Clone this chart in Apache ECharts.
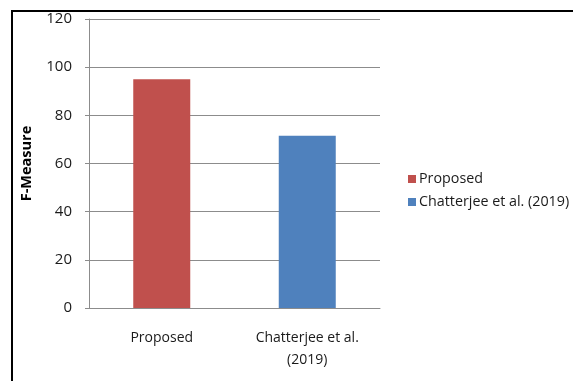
<!DOCTYPE html>
<html>
<head>
<meta charset="utf-8">
<script src="https://cdn.jsdelivr.net/npm/echarts@6/dist/echarts.min.js"></script>
<style>html,body{margin:0;padding:0;background:#fff}#c{width:573px;height:381px}</style>
</head>
<body>
<div id="c"></div>
<script>
var categories = ['Proposed', 'Chatterjee et al. (2019)'];
var seriesNames = ['Proposed', 'Chatterjee et al. (2019)'];
var proposedValues = [95, null];
var chatterjeeValues = [null, 71.5];
var yTicks = [0, 20, 40, 60, 80, 100, 120];
var colors = ['#C0504D', '#4F81BD'];
var font = '"Open Sans", sans-serif';

var chart = echarts.init(document.getElementById('c'), null, {renderer: 'canvas'});
chart.setOption({
  animation: false,
  backgroundColor: '#fff',
  color: colors,
  graphic: [
    {type: 'line', shape: {x1: 11, y1: 11, x2: 573, y2: 11}, style: {stroke: '#000', lineWidth: 2}},
    {type: 'line', shape: {x1: 12, y1: 10, x2: 12, y2: 381}, style: {stroke: '#000', lineWidth: 2}}
  ],
  grid: {left: 89, right: 193, top: 19, bottom: 73},
  legend: {
    orient: 'vertical',
    left: 403,
    top: 166,
    itemWidth: 8,
    itemHeight: 8,
    itemGap: 7,
    icon: 'rect',
    data: seriesNames,
    textStyle: {fontFamily: font, fontSize: 14.3, color: '#1a1a1a', padding: [0, 0, 0, -2], lineHeight: 16}
  },
  xAxis: {
    type: 'category',
    data: categories,
    axisTick: {show: false},
    axisLine: {lineStyle: {color: '#8c8c8c', width: 1}},
    axisLabel: {
      fontFamily: font, fontSize: 14, color: '#1a1a1a', margin: 19, lineHeight: 22,
      formatter: function (v) { return v.replace(' (', '\n('); }
    }
  },
  yAxis: {
    type: 'value',
    min: yTicks[0],
    max: yTicks[yTicks.length - 1],
    interval: 20,
    name: 'F-Measure',
    nameLocation: 'middle',
    nameGap: 55,
    nameRotate: 90,
    nameTextStyle: {fontFamily: font, fontSize: 14.5, fontWeight: 'bold', color: '#000'},
    axisLine: {show: true, lineStyle: {color: '#8c8c8c', width: 1}},
    axisTick: {show: true, length: 4, lineStyle: {color: '#8c8c8c'}},
    splitLine: {lineStyle: {color: '#8c8c8c', width: 1}},
    axisLabel: {fontFamily: font, fontSize: 15, color: '#1a1a1a', margin: 17}
  },
  series: [
    {name: seriesNames[0], type: 'bar', stack: 's', data: proposedValues, barWidth: 57, itemStyle: {color: colors[0]}},
    {name: seriesNames[1], type: 'bar', stack: 's', data: chatterjeeValues, barWidth: 57, itemStyle: {color: colors[1]}}
  ]
});
</script>
</body>
</html>
